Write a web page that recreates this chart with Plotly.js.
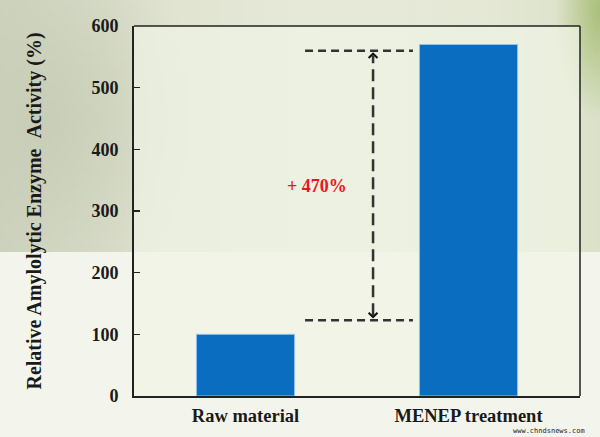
<!DOCTYPE html>
<html>
<head>
<meta charset="utf-8">
<script src="https://cdn.plot.ly/plotly-3.0.1.min.js"></script>
<style>
  html, body { margin: 0; padding: 0; }
  body {
    width: 600px; height: 437px; overflow: hidden;
    background:
      linear-gradient(to bottom, rgba(0,0,0,0) 0px, rgba(0,0,0,0) 252px, #f3f5ec 252px, #f3f5ec 437px),
      radial-gradient(ellipse 45px 110px at 600px 10px, #a9bf78 0%, rgba(169,191,120,0) 100%),
      radial-gradient(ellipse 160px 200px at 40px 120px, #c8cdb8 0%, rgba(200,205,184,0) 100%),
      linear-gradient(to right, #cfd4c0 0px, #dfe3cf 160px, #e6e9d8 300px, #e4e8d5 480px, #dbe1c9 600px);
  }
  #chart { width: 600px; height: 437px; }
</style>
</head>
<body>
<div id="chart"></div>
<script>
// ---- data ----
const categories = ["Raw material", "MENEP treatment"];
const activity = [100, 570];
const yTicks = [0, 100, 200, 300, 400, 500, 600];
const bracketLevels = [123, 560];   // lower & upper dashed reference levels
const increaseLabel = "+ 470%";
const yTitle = "Relative Amylolytic Enzyme&nbsp;&nbsp;Activity (%)";

// ---- shapes for the dashed bracket ----
const lineColor = "#333333";
const bx0 = 0.267, bx1 = 0.751, bxc = 0.572;
const shapes = [];
bracketLevels.forEach(v => {
  shapes.push({type: "line", xref: "x", yref: "y", x0: bx0, x1: bx1, y0: v, y1: v,
    line: {color: lineColor, width: 2.5, dash: "8px,5px"}});
});
const lo = bracketLevels[0], hi = bracketLevels[1];
shapes.push({type: "line", xref: "x", yref: "y", x0: bxc, x1: bxc, y0: lo + 8, y1: hi - 8,
  line: {color: lineColor, width: 2.5, dash: "12px,6px"}});
// arrow heads (open chevrons)
shapes.push({type: "path", xref: "x", yref: "y",
  path: `M ${bxc - 0.02},${hi - 12} L ${bxc},${hi - 5} L ${bxc + 0.02},${hi - 12}`,
  line: {color: "#111", width: 2}});
shapes.push({type: "path", xref: "x", yref: "y",
  path: `M ${bxc - 0.02},${lo + 12} L ${bxc},${lo + 5} L ${bxc + 0.02},${lo + 12}`,
  line: {color: "#111", width: 2}});
// top and right frame lines
shapes.push({type: "line", xref: "paper", yref: "paper", x0: 0, x1: 1, y0: 1, y1: 1,
  line: {color: "#222", width: 1.5}});
shapes.push({type: "line", xref: "paper", yref: "paper", x0: 1, x1: 1, y0: 0, y1: 1,
  line: {color: "#222", width: 1.5}});

const trace = {
  type: "bar",
  x: [0, 1],
  y: activity,
  width: 0.44,
  marker: {color: "#0a6dc0", line: {color: "#8ec3ee", width: 1}},
  hoverinfo: "skip"
};

const serif = "'Liberation Serif', 'Times New Roman', serif";

const layout = {
  width: 600, height: 437,
  margin: {l: 134, r: 20, t: 26, b: 41},
  paper_bgcolor: "rgba(0,0,0,0)",
  plot_bgcolor: "rgba(240,243,230,0.7)",
  showlegend: false,
  xaxis: {
    range: [-0.5, 1.5],
    tickmode: "array", tickvals: [0, 1], ticktext: categories,
    ticks: "", showgrid: false, zeroline: false,
    showline: true, linecolor: "#222", linewidth: 2,
    tickfont: {family: serif, size: 18.5, color: "#1a1a1a", weight: "bold"},
    ticklabelstandoff: 2,
    fixedrange: true
  },
  yaxis: {
    range: [0, 600],
    tickmode: "array", tickvals: yTicks,
    ticks: "inside", ticklen: 6, tickwidth: 1.5, tickcolor: "#222",
    showgrid: false, zeroline: false,
    showline: true, linecolor: "#222", linewidth: 2,
    tickfont: {family: serif, size: 18, color: "#1a1a1a", weight: "bold"},
    ticklabelstandoff: 10,
    title: {text: yTitle, standoff: 44,
      font: {family: serif, size: 20, color: "#1a1a1a", weight: "bold"}},
    fixedrange: true
  },
  shapes: shapes,
  annotations: [
    {xref: "x", yref: "y", x: 0.32, y: 340, text: increaseLabel, showarrow: false,
      font: {family: serif, size: 18, color: "#e8161e", weight: "bold"}},
    {xref: "paper", yref: "paper", x: 1.015, y: -0.111, xanchor: "right", yanchor: "bottom",
      text: "www.chndsnews.com", showarrow: false,
      font: {family: "DejaVu Sans Mono, monospace", size: 7, color: "#222"}}
  ]
};

Plotly.newPlot("chart", [trace], layout, {displayModeBar: false, staticPlot: true});
</script>
</body>
</html>
